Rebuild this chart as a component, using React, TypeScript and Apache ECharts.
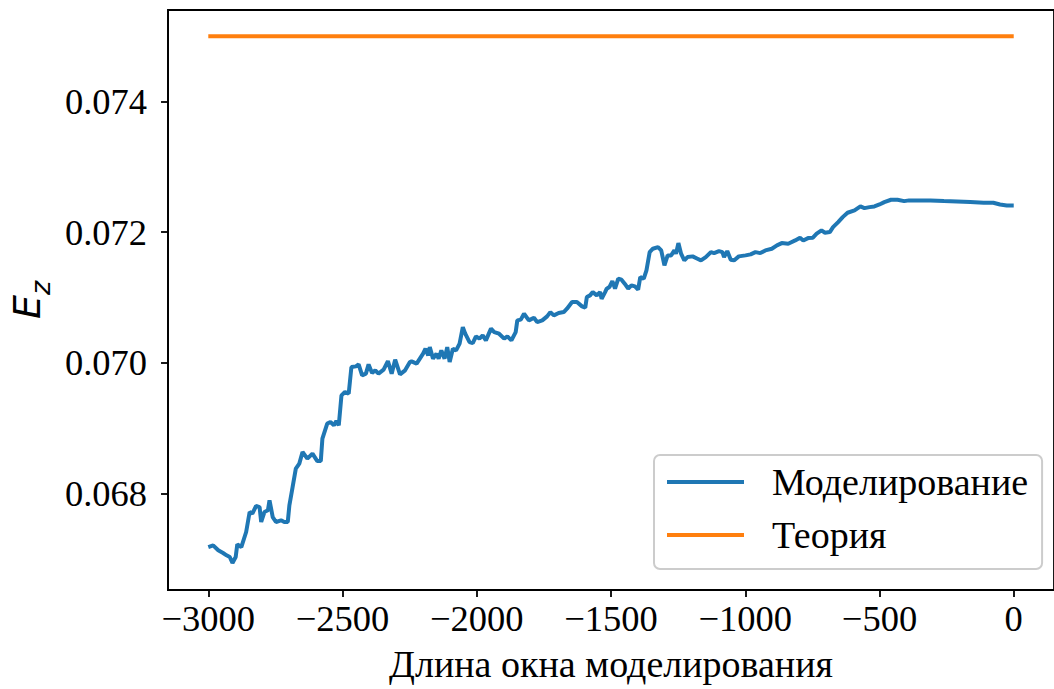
import { useEffect, useRef } from 'react';
import * as echarts from 'echarts';

const simX = [
  -3000, -2982, -2963, -2945, -2932, -2920, -2910, -2898, -2892, -2877,
  -2859, -2846, -2836, -2822, -2809, -2803, -2791, -2778, -2772, -2760,
  -2748, -2729, -2717, -2704, -2698, -2686, -2674, -2661, -2649, -2631,
  -2612, -2594, -2581, -2575, -2557, -2545, -2532, -2523, -2514, -2504,
  -2491, -2477, -2467, -2450, -2440, -2427, -2413, -2403, -2390, -2378,
  -2366, -2347, -2331, -2317, -2304, -2286, -2267, -2249, -2243, -2224,
  -2200, -2191, -2181, -2175, -2163, -2150, -2142, -2132, -2120, -2110,
  -2101, -2089, -2077, -2064, -2052, -2043, -2027, -2015, -2003, -1990,
  -1978, -1966, -1947, -1935, -1917, -1898, -1886, -1871, -1855, -1849,
  -1836, -1824, -1806, -1787, -1775, -1756, -1738, -1726, -1713, -1695,
  -1676, -1664, -1645, -1627, -1608, -1596, -1590, -1578, -1568, -1553,
  -1541, -1535, -1522, -1516, -1506, -1495, -1485, -1473, -1461, -1449,
  -1436, -1424, -1411, -1399, -1391, -1378, -1368, -1356, -1344, -1325,
  -1313, -1301, -1289, -1276, -1264, -1258, -1249, -1239, -1227, -1215,
  -1196, -1178, -1165, -1147, -1128, -1116, -1098, -1085, -1079, -1067,
  -1054, -1042, -1024, -999, -980, -962, -944, -925, -901, -882,
  -864, -840, -814, -796, -784, -766, -748, -734, -716, -703,
  -685, -673, -654, -637, -619, -593, -571, -556, -537, -519,
  -500, -482, -457, -433, -408, -390, -359, -310, -260, -211,
  -162, -112, -76, -51, -26, 0,
];

const simY = [
  0.067178, 0.067204, 0.067128, 0.067086, 0.067051, 0.067025, 0.066933, 0.067025, 0.067219, 0.067178,
  0.067408, 0.067714, 0.067689, 0.067806, 0.06779, 0.067561, 0.067714, 0.06774, 0.067893, 0.067637,
  0.067561, 0.067587, 0.067561, 0.067561, 0.067816, 0.068096, 0.068378, 0.068455, 0.068632, 0.068531,
  0.068608, 0.068494, 0.068494, 0.068837, 0.069067, 0.069091, 0.069041, 0.069107, 0.069041, 0.0695,
  0.069551, 0.069526, 0.069933, 0.069944, 0.069974, 0.069806, 0.069832, 0.069974, 0.069841, 0.069883,
  0.069832, 0.069893, 0.070025, 0.069832, 0.070046, 0.069821, 0.069883, 0.07001, 0.07002, 0.069985,
  0.070138, 0.070215, 0.070112, 0.070239, 0.070062, 0.070138, 0.070062, 0.070189, 0.070062, 0.070239,
  0.07001, 0.070215, 0.070189, 0.070291, 0.070545, 0.070444, 0.070316, 0.070301, 0.070403, 0.070368,
  0.070418, 0.070342, 0.070521, 0.070469, 0.070444, 0.070368, 0.070403, 0.070342, 0.070469, 0.070648,
  0.070659, 0.07075, 0.070648, 0.070689, 0.070622, 0.070648, 0.070709, 0.070775, 0.070724, 0.07076,
  0.070775, 0.070827, 0.070928, 0.070928, 0.070862, 0.070842, 0.071005, 0.071031, 0.071081, 0.071031,
  0.071081, 0.07098, 0.071081, 0.071133, 0.071158, 0.071249, 0.071133, 0.071286, 0.071271, 0.07121,
  0.071133, 0.071184, 0.071168, 0.071118, 0.071311, 0.071286, 0.071413, 0.071693, 0.071745, 0.07177,
  0.071719, 0.07149, 0.071643, 0.071643, 0.071719, 0.071669, 0.071831, 0.071669, 0.071566, 0.071617,
  0.071628, 0.071592, 0.071566, 0.071617, 0.071693, 0.071678, 0.071709, 0.071693, 0.071617, 0.071709,
  0.071577, 0.071566, 0.071628, 0.071643, 0.071658, 0.071693, 0.071678, 0.071719, 0.071745, 0.071796,
  0.071831, 0.071822, 0.071872, 0.071914, 0.071872, 0.071908, 0.071914, 0.071975, 0.072025, 0.07199,
  0.072, 0.072076, 0.072153, 0.072229, 0.072296, 0.072332, 0.072393, 0.072367, 0.072382, 0.072393,
  0.072423, 0.072459, 0.072495, 0.072495, 0.072474, 0.072485, 0.072485, 0.072485, 0.072474, 0.072469,
  0.072459, 0.072449, 0.072449, 0.072423, 0.072408, 0.072408,
];

const theoryX = [-3000, 0];
const theoryY = [0.075, 0.075];

const xTicks = [-3000, -2500, -2000, -1500, -1000, -500, 0];
const yTicks = [0.068, 0.07, 0.072, 0.074];
const seriesNames = ['Моделирование', 'Теория'];
const xTitle = 'Длина окна моделирования';

export default function App() {
  const ref = useRef<HTMLDivElement>(null);
  useEffect(() => {
    const chart = echarts.init(ref.current!, null, { renderer: 'svg' });
    const serif = 'Liberation Serif';
    const simData = simX.map((x, i) => [x, simY[i]]);
    const theoryData = theoryX.map((x, i) => [x, theoryY[i]]);
    chart.setOption({
      animation: false,
      backgroundColor: '#ffffff',
      grid: {
        left: 164, top: 10, width: 894, height: 580,
        show: true, borderColor: '#000', borderWidth: 1.8, backgroundColor: 'transparent',
      },
      xAxis: {
        type: 'value', min: -3150, max: 150,
        name: xTitle, nameLocation: 'middle', nameGap: 55,
        nameTextStyle: { fontFamily: serif, fontSize: 38, color: '#000' },
        axisLine: { show: true, onZero: false, lineStyle: { color: '#000', width: 1.8 } },
        axisTick: { show: true, length: 7, lineStyle: { color: '#000', width: 1.8 }, customValues: xTicks },
        axisLabel: {
          customValues: xTicks, fontFamily: serif, fontSize: 36.5, color: '#000', margin: 10,
          formatter: (v: number) => (v < 0 ? '\u2212' + Math.abs(v) : String(v)),
        },
        splitLine: { show: false },
      },
      yAxis: {
        type: 'value', min: 0.06652, max: 0.0754,
        name: '{e|E}{z|z}', nameLocation: 'middle', nameRotate: 90, nameGap: 121,
        nameTextStyle: {
          color: '#000',
          rich: {
            e: { fontFamily: 'DejaVu Sans', fontStyle: 'italic', fontSize: 38, color: '#000' },
            z: { fontFamily: 'DejaVu Sans', fontStyle: 'italic', fontSize: 27, color: '#000', verticalAlign: 'bottom', padding: [0, 0, -8, 0] },
          },
        },
        axisLine: { show: true, onZero: false, lineStyle: { color: '#000', width: 1.8 } },
        axisTick: { show: true, length: 7, lineStyle: { color: '#000', width: 1.8 }, customValues: yTicks },
        axisLabel: {
          customValues: yTicks, fontFamily: serif, fontSize: 36.5, color: '#000', margin: 21,
          formatter: (v: number) => v.toFixed(3),
        },
        splitLine: { show: false },
      },
      legend: {
        orient: 'vertical', left: 654, top: 455,
        padding: [7, 14, 14, 13], itemGap: 13,
        itemWidth: 77, itemHeight: 4, icon: 'rect',
        backgroundColor: '#ffffff', borderColor: '#cccccc', borderWidth: 2, borderRadius: 6,
        textStyle: { fontFamily: serif, fontSize: 38, color: '#000', lineHeight: 40, padding: [0, 0, 0, 23] },
        data: seriesNames,
      },
      series: [
        {
          name: seriesNames[0], type: 'line', data: simData, showSymbol: false, symbol: 'none',
          lineStyle: { color: '#1f77b4', width: 4 }, itemStyle: { color: '#1f77b4' }, z: 2,
        },
        {
          name: seriesNames[1], type: 'line', data: theoryData, showSymbol: false, symbol: 'none',
          lineStyle: { color: '#ff7f0e', width: 4 }, itemStyle: { color: '#ff7f0e' }, z: 3,
        },
      ],
    });
    return () => chart.dispose();
  }, []);
  return <div ref={ref} style={{ position: 'fixed', left: 0, top: 0, width: 1054, height: 689 }} />;
}
